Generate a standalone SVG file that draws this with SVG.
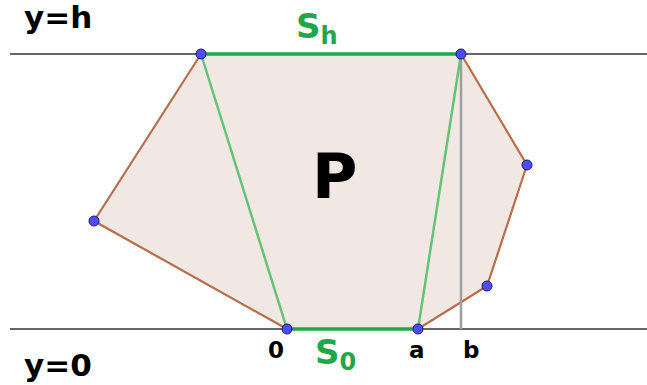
<svg xmlns="http://www.w3.org/2000/svg" width="647" height="385" viewBox="0 0 647 385">
<style>
.lbl{font-family:"DejaVu Sans","Verdana",sans-serif;font-weight:bold;fill:#000}
.grn{font-family:"DejaVu Sans","Verdana",sans-serif;font-weight:bold;fill:#1fa84a}
.pt{fill:#4d4dff;stroke:#1a1a66;stroke-width:1}
.edge{stroke:#b86e4a;stroke-width:2.2;fill:none}
.diag{stroke:#62c474;stroke-width:2.5;fill:none}
</style>
<rect width="647" height="385" fill="#fff"/>
<g id="lines">
<line x1="10" y1="54" x2="647" y2="54" stroke="#666" stroke-width="2"/>
<line x1="10" y1="329" x2="647" y2="329" stroke="#666" stroke-width="2"/>
</g>
<g id="polygon-P">
<polygon points="201,54 461,54 527,165 487,286 418,329 287,329 94,221" fill="#f2e8e3" stroke="none"/>
<polyline class="edge" points="461,54 527,165 487,286 418,329"/>
<polyline class="edge" points="287,329 94,221 201,54"/>
</g>
<g id="connectors">
<line x1="461" y1="54" x2="461" y2="329" stroke="#9e9e9e" stroke-width="2.5"/>
<line class="diag" x1="201" y1="54" x2="287" y2="329"/>
<line class="diag" x1="461" y1="54" x2="418" y2="329"/>
<line x1="201" y1="54" x2="461" y2="54" stroke="#1fa84a" stroke-width="3.5"/>
<line x1="287" y1="329" x2="418" y2="329" stroke="#1fa84a" stroke-width="3.5"/>
</g>
<g id="vertices">
<circle class="pt" cx="201" cy="54" r="5"/>
<circle class="pt" cx="461" cy="54" r="5"/>
<circle class="pt" cx="527" cy="165" r="5"/>
<circle class="pt" cx="487" cy="286" r="5"/>
<circle class="pt" cx="418" cy="329" r="5"/>
<circle class="pt" cx="287" cy="329" r="5"/>
<circle class="pt" cx="94" cy="221" r="5"/>
</g>
<g id="labels">
<text class="lbl" x="24" y="28" font-size="31">y=h</text>
<text class="lbl" x="24" y="376" font-size="31">y=0</text>
<text class="grn" x="296" y="38" font-size="34">S<tspan font-size="24" dy="6">h</tspan></text>
<text class="grn" x="315" y="364" font-size="34">S<tspan font-size="24" dy="6">0</tspan></text>
<text class="lbl" x="312" y="198" font-size="62">P</text>
<text class="lbl" x="268" y="358" font-size="23">0</text>
<text class="lbl" x="409" y="358" font-size="23">a</text>
<text class="lbl" x="463" y="358" font-size="23">b</text>
</g>
</svg>
